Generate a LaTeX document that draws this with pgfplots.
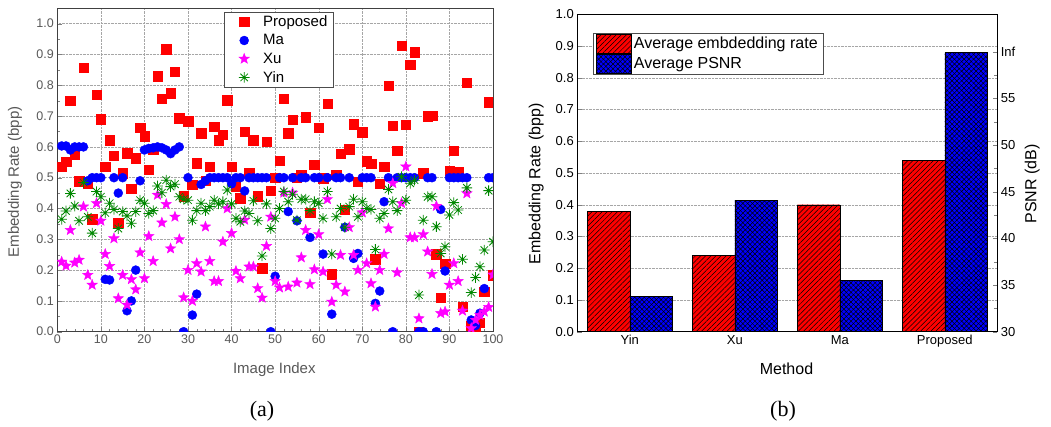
\documentclass[border=0pt]{standalone}
\usepackage{fontspec}
\setmainfont{Liberation Sans}
\newfontfamily\seriffont{Liberation Serif}
\usepackage{pgfplots}
\pgfplotsset{compat=1.18}
\usetikzlibrary{patterns.meta}

\definecolor{myred}{RGB}{255,0,0}
\definecolor{myblue}{RGB}{0,0,255}
\definecolor{mymag}{RGB}{255,0,255}
\definecolor{mygreen}{RGB}{0,135,0}

\pgfdeclareplotmark{fstar}{%
  \pgfpathmoveto{\pgfpointpolar{90}{\pgfplotmarksize}}%
  \pgfpathlineto{\pgfpointpolar{126}{0.42\pgfplotmarksize}}%
  \pgfpathlineto{\pgfpointpolar{162}{\pgfplotmarksize}}%
  \pgfpathlineto{\pgfpointpolar{198}{0.42\pgfplotmarksize}}%
  \pgfpathlineto{\pgfpointpolar{234}{\pgfplotmarksize}}%
  \pgfpathlineto{\pgfpointpolar{270}{0.42\pgfplotmarksize}}%
  \pgfpathlineto{\pgfpointpolar{306}{\pgfplotmarksize}}%
  \pgfpathlineto{\pgfpointpolar{342}{0.42\pgfplotmarksize}}%
  \pgfpathlineto{\pgfpointpolar{18}{\pgfplotmarksize}}%
  \pgfpathlineto{\pgfpointpolar{54}{0.42\pgfplotmarksize}}%
  \pgfpathclose
  \pgfusepathqfillstroke
}
\pgfdeclareplotmark{asteight}{%
  \pgfpathmoveto{\pgfpoint{-\pgfplotmarksize}{0pt}}\pgfpathlineto{\pgfpoint{\pgfplotmarksize}{0pt}}%
  \pgfpathmoveto{\pgfpoint{0pt}{-\pgfplotmarksize}}\pgfpathlineto{\pgfpoint{0pt}{\pgfplotmarksize}}%
  \pgfpathmoveto{\pgfpointpolar{45}{\pgfplotmarksize}}\pgfpathlineto{\pgfpointpolar{225}{\pgfplotmarksize}}%
  \pgfpathmoveto{\pgfpointpolar{135}{\pgfplotmarksize}}\pgfpathlineto{\pgfpointpolar{315}{\pgfplotmarksize}}%
  \pgfusepathqstroke
}

\pgfplotsset{
  redbar/.style={fill=myred, draw=black, postaction={pattern={Lines[angle=45,distance=3.6pt,line width=0.5pt]}, pattern color=black}},
  bluebar/.style={fill=myblue, draw=black, postaction={pattern={Lines[angle=45,distance=3.4pt,line width=0.5pt]}, pattern color=black}, postaction={pattern={Lines[angle=-45,distance=3.4pt,line width=0.5pt]}, pattern color=black}},
  myleg/.style={legend image code/.code={\draw[##1] (0pt,-9.6pt) rectangle (35pt,9.6pt);}},
}

\begin{document}
\begin{tikzpicture}
\useasboundingbox (0pt,0pt) rectangle (1051pt,427pt);
\fill[white] (0pt,0pt) rectangle (1051pt,427pt);

% ---------------- panel (a)
\begin{axis}[
  at={(57.3pt,95.3pt)}, anchor=south west, scale only axis,
  width=435.7pt, height=323.4pt,
  xmin=0, xmax=100, ymin=0, ymax=1.05,
  xtick={0,10,...,100}, ytick={0,0.1,0.2,0.3,0.4,0.5,0.6,0.7,0.8,0.9,1.0},
  minor x tick num=4, minor y tick num=1,
  grid=major, grid style={densely dotted, gray!70},
  tick pos=left,
  axis line style={black!75},
  /pgf/number format/assume math mode=true,
  tick label style={font=\fontsize{12.5}{13}\selectfont, text=black!65},
  yticklabel style={/pgf/number format/.cd, fixed, fixed zerofill, precision=1},
  xlabel={Image Index}, ylabel={Embedding Rate (bpp)},
  label style={font=\fontsize{15}{16}\selectfont, text=black!65},
  xlabel style={at={(axis description cs:0.498,-0.118)}, anchor=center},
  ylabel style={at={(axis description cs:-0.097,0.463)}, anchor=center},
  clip marker paths=true,
  legend image code/.code={\path[draw=none, fill=none] (0pt,-4pt) rectangle (33pt,4pt); \draw[mark repeat=2, mark phase=2, #1] plot coordinates {(0pt,0pt) (16pt,0pt) (32pt,0pt)};},
  legend style={at={(0.3826,0.99)}, anchor=north west, draw=black!70, fill=white,
    font=\fontsize{15}{16}\selectfont, row sep=2.5pt, inner xsep=4pt, inner ysep=2pt},
  legend cell align=left,
]
\addplot[only marks, mark=square*, mark size=4.7pt, color=myred] coordinates {
(1,.536)(2,.552)(3,.75)(4,.574)(5,.488)(6,.857)(7,.48)(8,.365)(9,.77)(10,.69)
(11,.536)(12,.622)(13,.571)(14,.354)(15,.514)(16,.579)(17,.465)(18,.563)(19,.662)(20,.635)
(21,.525)(22,.59)(23,.83)(24,.757)(25,.917)(26,.774)(27,.844)(28,.693)(29,.44)(30,.684)
(31,.478)(32,.547)(33,.644)(34,.49)(35,.536)(36,.666)(37,.622)(38,.639)(39,.752)(40,.536)
(41,.47)(42,.433)(43,.649)(44,.517)(45,.622)(46,.44)(47,.206)(48,.617)(49,.458)(50,.5)
(51,.555)(52,.757)(53,.644)(54,.689)(55,.5)(56,.51)(57,.696)(58,.387)(59,.543)(60,.662)
(61,.498)(62,.741)(63,.187)(64,.509)(65,.577)(66,.397)(67,.592)(68,.674)(69,.487)(70,.648)
(71,.554)(72,.546)(73,.235)(74,.48)(75,.536)(76,.798)(77,.669)(78,.588)(79,.929)(80,.673)
(81,.866)(82,.907)(83,0)(84,.514)(85,.70)(86,.702)(87,.252)(88,.11)(89,.22)(90,.523)
(91,.587)(92,.52)(93,.081)(94,.808)(95,.02)(96,.01)(97,.03)(98,.13)(99,.745)(100,.184)
};
\addlegendentry{Proposed}
\addplot[only marks, mark=*, mark size=4.5pt, color=myblue] coordinates {
(1,.603)(2,.603)(3,.59)(4,.6)(5,.6)(6,.6)(7,.49)(8,.5)(9,.5)(10,.5)
(11,.17)(12,.168)(13,.5)(14,.45)(15,.5)(16,.068)(17,.1)(18,.2)(19,.49)(20,.59)
(21,.595)(22,.597)(23,.6)(24,.597)(25,.59)(26,.578)(27,.59)(28,.6)(29,0)(30,.5)
(31,.054)(32,.122)(33,.478)(34,.49)(35,.5)(36,.5)(37,.5)(38,.5)(39,.5)(40,.48)
(41,.5)(42,.5)(43,.457)(44,.5)(45,.5)(46,.5)(47,.5)(48,.5)(49,0)(50,.18)
(51,.5)(52,.5)(53,.39)(54,.5)(55,.36)(56,.5)(57,.5)(58,.306)(59,.5)(60,.5)
(61,.252)(62,.5)(63,.057)(64,.5)(65,.5)(66,.339)(67,.5)(68,.238)(69,.254)(70,.5)
(71,.5)(72,.5)(73,.092)(74,.132)(75,.422)(76,.5)(77,0)(78,.5)(79,.5)(80,.5)
(81,.5)(82,.5)(83,0)(84,0)(85,.5)(86,.5)(87,0)(88,.397)(89,.197)(90,.5)
(91,.5)(92,.5)(93,.5)(94,.5)(95,.038)(96,.02)(97,.06)(98,.14)(99,.5)(100,.5)
};
\addlegendentry{Ma}
\addplot[only marks, mark=fstar, mark size=5.5pt, color=mymag] coordinates {
(1,.227)(2,.214)(3,.33)(4,.224)(5,.233)(6,.406)(7,.184)(8,.152)(9,.417)(10,.36)
(11,.252)(12,.213)(13,.303)(14,.108)(15,.184)(16,.087)(17,.17)(18,.137)(19,.257)(20,.173)
(21,.31)(22,.229)(23,.444)(24,.354)(25,.414)(26,.27)(27,.373)(28,.3)(29,.111)(30,.2)
(31,.1)(32,.222)(33,.195)(34,.341)(35,.229)(36,.164)(37,.164)(38,.292)(39,.4)(40,.32)
(41,.197)(42,.173)(43,.363)(44,.211)(45,.211)(46,.141)(47,.11)(48,.278)(49,.373)(50,.164)
(51,.143)(52,.451)(53,.146)(54,.451)(55,.159)(56,.241)(57,.33)(58,.154)(59,.202)(60,.316)
(61,.195)(62,.43)(63,.097)(64,.152)(65,.249)(66,.13)(67,.339)(68,.249)(69,.2)(70,.387)
(71,.222)(72,.157)(73,.081)(74,.2)(75,.252)(76,.335)(77,.482)(78,.192)(79,.417)(80,.536)
(81,.306)(82,.306)(83,.043)(84,.316)(85,.26)(86,.187)(87,.408)(88,.06)(89,.065)(90,.152)
(91,.222)(92,.164)(93,.068)(94,.449)(95,.011)(96,.038)(97,.054)(98,.065)(99,.08)(100,.185)
};
\addlegendentry{Xu}
\addplot[only marks, mark=asteight, mark size=5.3pt, color=mygreen, mark options={line width=0.8pt}] coordinates {
(1,.365)(2,.392)(3,.449)(4,.408)(5,.36)(6,.484)(7,.373)(8,.32)(9,.455)(10,.438)
(11,.386)(12,.417)(13,.397)(14,.335)(15,.39)(16,.376)(17,.352)(18,.39)(19,.427)(20,.417)
(21,.384)(22,.393)(23,.473)(24,.451)(25,.492)(26,.471)(27,.479)(28,.438)(29,.43)(30,.427)
(31,.362)(32,.393)(33,.417)(34,.393)(35,.406)(36,.427)(37,.415)(38,.422)(39,.46)(40,.415)
(41,.368)(42,.357)(43,.392)(44,.384)(45,.425)(46,.36)(47,.246)(48,.415)(49,.335)(50,.368)
(51,.4)(52,.455)(53,.422)(54,.446)(55,.362)(56,.43)(57,.43)(58,.393)(59,.422)(60,.417)
(61,.368)(62,.455)(63,.252)(64,.373)(65,.4)(66,.339)(67,.406)(68,.43)(69,.373)(70,.422)
(71,.4)(72,.397)(73,.267)(74,.368)(75,.384)(76,.462)(77,.422)(78,.393)(79,.503)(80,.427)
(81,.482)(82,.492)(83,.119)(84,.362)(85,.438)(86,.438)(87,.341)(88,.254)(89,.276)(90,.379)
(91,.419)(92,.395)(93,.235)(94,.467)(95,.127)(96,.176)(97,.211)(98,.265)(99,.458)(100,.292)
};
\addlegendentry{Yin}
\end{axis}

% ---------------- panel (b), left axis
\begin{axis}[
  at={(577.3pt,95.3pt)}, anchor=south west, scale only axis,
  width=420pt, height=317.4pt,
  xmin=-0.5, xmax=3.5, ymin=0, ymax=1,
  xtick={0,1,2,3}, xticklabels={Yin,Xu,Ma,Proposed},
  x tick style={draw=none},
  ytick={0,0.1,0.2,0.3,0.4,0.5,0.6,0.7,0.8,0.9,1.0},
  ytick pos=left,
  ymajorgrids, grid style={densely dotted, gray!70},
  /pgf/number format/assume math mode=true,
  tick label style={font=\fontsize{13}{14}\selectfont},
  yticklabel style={/pgf/number format/.cd, fixed, fixed zerofill, precision=1},
  xlabel={Method}, ylabel={Embedding Rate (bpp)},
  label style={font=\fontsize{16}{17}\selectfont},
  xlabel style={at={(axis description cs:0.498,-0.1175)}, anchor=center},
  ylabel style={at={(axis description cs:-0.098,0.465)}, anchor=center},
]
\addplot[ybar, bar width=42.3pt, bar shift=-21.15pt, redbar] coordinates {(0,0.38) (1,0.24) (2,0.40) (3,0.54)};
\end{axis}

% ---------------- panel (b), right axis
\begin{axis}[
  at={(577.3pt,95.3pt)}, anchor=south west, scale only axis,
  width=420pt, height=317.4pt,
  xmin=-0.5, xmax=3.5, ymin=30, ymax=64,
  axis y line*=right, axis x line=none,
  ytick={30,35,40,45,50,55,60}, yticklabels={30,35,40,45,50,55,Inf},
  minor y tick num=1,
  /pgf/number format/assume math mode=true,
  tick label style={font=\fontsize{13}{14}\selectfont},
  ylabel={PSNR (dB)},
  label style={font=\fontsize{16}{17}\selectfont},
  ylabel style={at={(axis description cs:1.083,0.465)}, anchor=center},
  legend style={at={(0.038,0.942)}, anchor=north west, draw=black!70, fill=white,
    font=\fontsize{16}{17}\selectfont, row sep=0pt, inner xsep=3pt, inner ysep=1pt},
  legend cell align=left,
]
\addlegendimage{redbar, myleg}
\addplot[ybar, bar width=42.3pt, bar shift=21.15pt, bluebar, myleg] coordinates {(0,33.75) (1,44.1) (2,35.5) (3,59.9)};
\legend{Average embdedding rate, Average PSNR}
\end{axis}

\node[font=\seriffont\fontsize{22}{24}\selectfont] at (262pt,16pt) {(a)};
\node[font=\seriffont\fontsize{22}{24}\selectfont] at (783pt,16pt) {(b)};
\end{tikzpicture}
\end{document}
